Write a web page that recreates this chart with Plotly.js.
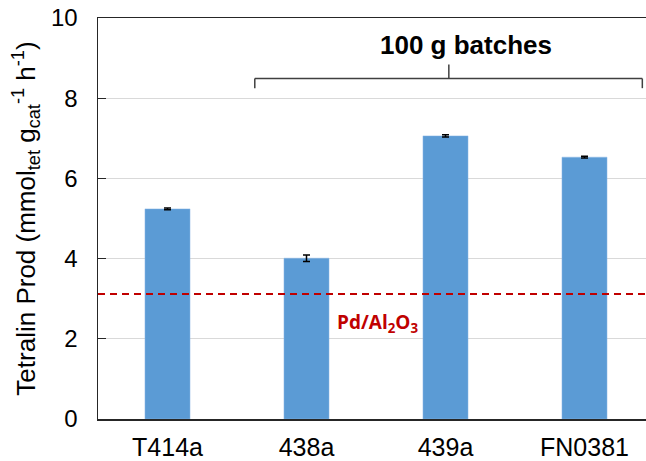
<!DOCTYPE html>
<html>
<head>
<meta charset="utf-8">
<script src="https://cdn.plot.ly/plotly-3.0.1.min.js"></script>
<style>
html,body{margin:0;padding:0;width:646px;height:461px;overflow:hidden;background:#fff;}
#chart{width:656px;height:461px;}
</style>
</head>
<body>
<div id="chart"></div>
<script>
const categories = ["T414a", "438a", "439a", "FN0381"];
const productivity = [5.24, 4.01, 7.06, 6.53];
const errors = [0.02, 0.08, 0.03, 0.02];
const referenceValue = 3.12;
const referenceLabel = "Pd/Al<sub>2</sub>O<sub>3</sub>";
const batchLabel = "100 g batches";
const yTicks = [0, 2, 4, 6, 8, 10];

const FONT = "Liberation Sans, Arial, sans-serif";

const trace = {
  type: "bar",
  x: categories,
  y: productivity,
  marker: {color: "#5B9BD5", line: {color: "#8DB8E6", width: 0.5}},
  error_y: {type: "data", array: errors, visible: true, color: "#000000", thickness: 1.5, width: 3.5},
  hoverinfo: "x+y"
};

const layout = {
  width: 656,
  height: 461,
  margin: {l: 98, r: 2, t: 18, b: 42},
  paper_bgcolor: "#ffffff",
  plot_bgcolor: "#ffffff",
  showlegend: false,
  bargap: 0.676,
  font: {family: FONT, color: "#000000"},
  xaxis: {
    type: "category",
    range: [-0.5, 3.5],
    showgrid: false,
    showline: true,
    linecolor: "#262626",
    linewidth: 1.5,
    mirror: true,
    ticks: "",
    tickfont: {family: FONT, size: 25, color: "#000000"},
    ticklabelstandoff: 5,
    zeroline: false
  },
  yaxis: {
    range: [0, 10],
    tickvals: yTicks,
    ticktext: yTicks.map(String),
    showgrid: true,
    gridcolor: "#D9D9D9",
    gridwidth: 1,
    showline: true,
    linecolor: "#262626",
    linewidth: 1.5,
    mirror: true,
    ticks: "inside",
    ticklen: 8,
    tickwidth: 1,
    tickcolor: "#262626",
    tickfont: {family: FONT, size: 24, color: "#000000"},
    ticklabelstandoff: 14,
    zeroline: false,
    title: {
      text: "Tetralin Prod (mmol<sub>tet</sub> g<sub>cat</sub><sup>-1</sup> h<sup>-1</sup>)",
      font: {family: FONT, size: 26, color: "#000000"},
      standoff: 8
    }
  },
  shapes: [
    {type: "line", xref: "paper", yref: "y", x0: 0, x1: 1, y0: referenceValue, y1: referenceValue,
     line: {color: "#C00000", width: 2, dash: "7px,5px"}},
    {type: "line", xref: "paper", yref: "paper", x0: 0.282, x1: 0.979, y0: 0.849, y1: 0.849,
     line: {color: "#404040", width: 1.5}},
    {type: "line", xref: "paper", yref: "paper", x0: 0.282, x1: 0.282, y0: 0.849, y1: 0.825,
     line: {color: "#404040", width: 1.5}},
    {type: "line", xref: "paper", yref: "paper", x0: 0.979, x1: 0.979, y0: 0.849, y1: 0.825,
     line: {color: "#404040", width: 1.5}},
    {type: "line", xref: "paper", yref: "paper", x0: 0.631, x1: 0.631, y0: 0.849, y1: 0.884,
     line: {color: "#404040", width: 1.5}}
  ],
  annotations: [
    {xref: "x", yref: "y", x: 1.51, y: 2.39, text: "<b>" + referenceLabel + "</b>", showarrow: false,
     font: {family: "Open Sans, sans-serif", size: 19, color: "#C00000"}},
    {xref: "paper", yref: "paper", x: 0.661, y: 0.975, text: "<b>" + batchLabel + "</b>", showarrow: false,
     font: {family: FONT, size: 26, color: "#000000"}}
  ]
};

Plotly.newPlot("chart", [trace], layout, {displayModeBar: false, staticPlot: true});
</script>
</body>
</html>
